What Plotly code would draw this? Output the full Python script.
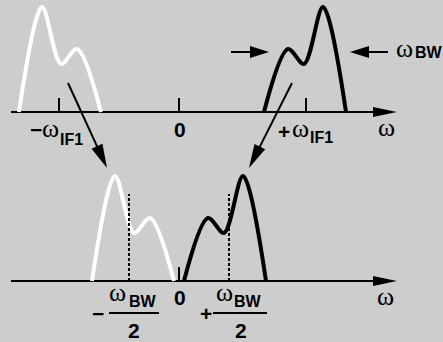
import math
import plotly.graph_objects as go

# ---------------- data (frequency axis: 0 at the centre tick) ----------------
tick_top = [-120, 0, 127]       # -omega_IF1, 0, +omega_IF1
tick_bottom = [0]
BW_HALF = 50                    # +/- omega_BW / 2 (dotted markers)
AXIS_START, AXIS_END = -168, 218

# spectrum shape of one band (offsets from band centre, heights)
shape_offsets = [-43, -19, -3, 16, 39]
shape_heights = [0, 63, 48, 105, 0]

# band copies
top_black_center = 128
top_white_center = -121
bottom_black_center = 48
bottom_white_center = -48
dot_height = 87
tick_len = 14

W, H = 443, 342
BG = '#cdcdcd'
X0 = 179          # pixel column of frequency zero
Y_TOP = 112       # pixel row of top axis
Y_BOT = 281       # pixel row of bottom axis

fig = go.Figure()


def band(center, mirrored):
    if mirrored:
        xs = [center - o for o in shape_offsets][::-1]
        ys = shape_heights[::-1]
    else:
        xs = [center + o for o in shape_offsets]
        ys = list(shape_heights)
    return xs, ys


def add_line(xs, ys, yaxis, color='black', width=2, dash=None, shape='linear', smoothing=None):
    line = dict(color=color, width=width, shape=shape)
    if dash:
        line['dash'] = dash
    if smoothing is not None:
        line['smoothing'] = smoothing
    fig.add_trace(go.Scatter(x=xs, y=ys, mode='lines', line=line, yaxis=yaxis,
                             hoverinfo='skip', showlegend=False))


def head_path(tx, ty, dx, dy, length, hw):
    n = math.hypot(dx, dy)
    ux, uy = dx / n, dy / n
    bx, by = tx - ux * length, ty - uy * length
    px, py = -uy * hw, ux * hw
    return f"M {tx},{ty} L {bx+px},{by+py} L {bx-px},{by-py} Z"


shapes = []


def arrow(x0, y0, x1, y1, yref, length, hw, width=2):
    n = math.hypot(x1 - x0, y1 - y0)
    ex = x1 - (x1 - x0) / n * (length * 0.8)
    ey = y1 - (y1 - y0) / n * (length * 0.8)
    add_line([x0, ex], [y0, ey], 'y' if yref == 'y' else 'y2', width=width)
    shapes.append(dict(type='path', xref='x', yref=yref,
                       path=head_path(x1, y1, x1 - x0, y1 - y0, length, hw),
                       fillcolor='black', line=dict(width=0)))


# ---------------- top panel ----------------
arrow(AXIS_START, 0, AXIS_END, 0, 'y', 24, 5)
for t in tick_top:
    add_line([t, t], [0, tick_len], 'y')
xs, ys = band(top_white_center, True)
add_line(xs, ys, 'y', color='white', width=4, shape='spline', smoothing=0.9)
xs, ys = band(top_black_center, False)
add_line(xs, ys, 'y', color='black', width=4, shape='spline', smoothing=0.9)
# omega_BW markers
arrow(52, 60, 90, 60, 'y', 19, 6)
arrow(209, 60, 171, 60, 'y', 19, 6)
# translation arrows
arrow(-111, 29, -72, -56, 'y', 24, 6)
arrow(113, 29, 70, -56, 'y', 24, 6)

# ---------------- bottom panel ----------------
arrow(AXIS_START, 0, AXIS_END, 0, 'y2', 24, 5)
for t in tick_bottom:
    add_line([t, t], [0, tick_len], 'y2')
xs, ys = band(bottom_white_center, True)
add_line(xs, ys, 'y2', color='white', width=4, shape='spline', smoothing=0.9)
xs, ys = band(bottom_black_center, False)
add_line(xs, ys, 'y2', color='black', width=4, shape='spline', smoothing=0.9)
for d in (-BW_HALF, BW_HALF):
    add_line([d, d], [0, dot_height], 'y2', width=2, dash='3px,2px')

# fraction bars
add_line([109 - X0, 159 - X0], [Y_BOT - 313] * 2, 'y2', width=2)
add_line([213 - X0, 267 - X0], [Y_BOT - 313] * 2, 'y2', width=2)

# ---------------- labels ----------------
SANS = 'Liberation Sans'
SERIF = 'Liberation Serif'
ann = []


def label(text, px, py, size, family=SANS, bold=True, xanchor='center'):
    ann.append(dict(text=f'<b>{text}</b>' if bold else text,
                    x=px / W, y=1 - py / H, xref='paper', yref='paper',
                    xanchor=xanchor, yanchor='middle', showarrow=False,
                    font=dict(family=family, size=size, color='black')))


OM = 26
# top
label('−', 36, 130, 21)
label('ω', 50, 128, OM, SERIF, False)
label('IF1', 58, 139, 16, xanchor='left')
label('0', 180, 129, 21)
label('+', 284, 131, 21)
label('ω', 300, 128, OM, SERIF, False)
label('IF1', 308, 138, 16, xanchor='left')
label('ω', 386, 127, OM, SERIF, False)
label('ω', 404, 48, OM, SERIF, False)
label('BW', 413, 53, 16, xanchor='left')
# bottom
label('−', 98, 313, 21)
label('ω', 117, 292, OM, SERIF, False)
label('BW', 127, 301, 16, xanchor='left')
label('2', 134, 330, 21)
label('0', 180, 297, 21)
label('+', 206, 313, 21)
label('ω', 224, 292, OM, SERIF, False)
label('BW', 232, 301, 16, xanchor='left')
label('2', 241, 330, 21)
label('ω', 385, 296, OM, SERIF, False)

fig.update_layout(
    width=W, height=H, margin=dict(l=0, r=0, t=0, b=0),
    paper_bgcolor=BG, plot_bgcolor=BG,
    xaxis=dict(range=[-X0, W - X0], visible=False, fixedrange=True),
    yaxis=dict(range=[Y_TOP - H, Y_TOP], visible=False, fixedrange=True),
    yaxis2=dict(range=[Y_BOT - H, Y_BOT], visible=False, overlaying='y', fixedrange=True),
    shapes=shapes, annotations=ann, showlegend=False,
)

fig.write_html('out.html', config={'displayModeBar': False},
               post_script="document.body.style.margin='0';document.body.style.padding='0';document.body.style.overflow='hidden';")
